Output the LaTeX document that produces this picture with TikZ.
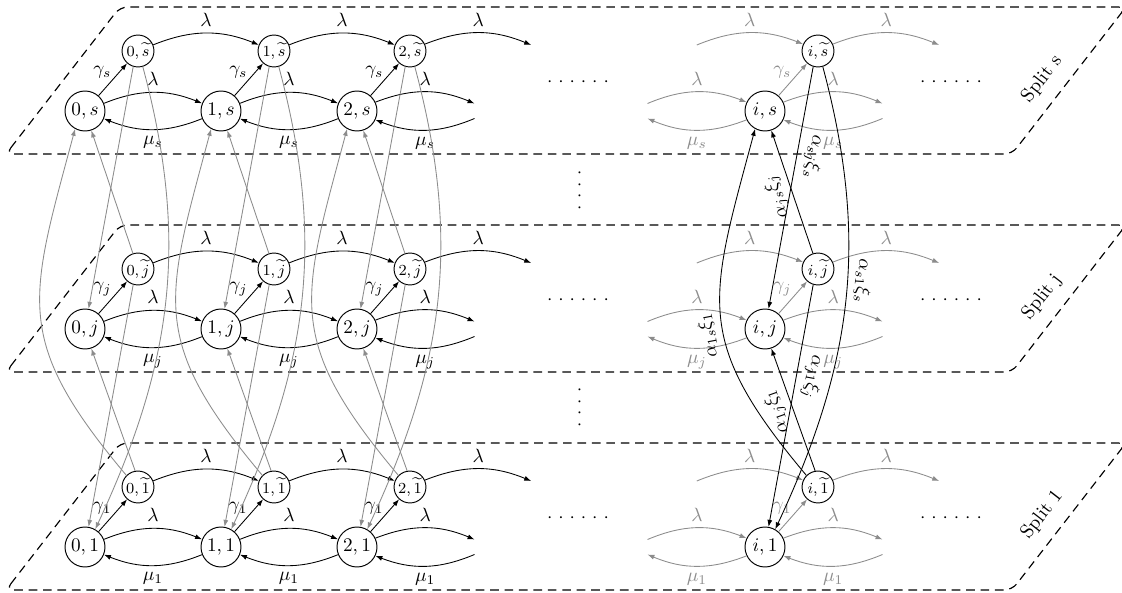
\documentclass[tikz,border=0pt]{standalone}
\usetikzlibrary{arrows.meta}
\newcommand{\sixdots}{$\cdot\kern3.1pt{\cdot}\kern3.1pt{\cdot}\kern3.1pt{\cdot}\kern3.1pt{\cdot}\kern3.1pt{\cdot}$}
\newcommand{\fourdots}{$\cdot\kern3.2pt{\cdot}\kern3.2pt{\cdot}\kern3.2pt{\cdot}$}
\begin{document}
\begin{tikzpicture}[x=0.52pt,y=0.52pt,
 mainnode/.style={circle,draw,line width=0.5pt,minimum size=20.8pt,inner sep=0pt},
 tildenode/.style={circle,draw,line width=0.5pt,minimum size=16.6pt,inner sep=0pt,font=\footnotesize},
 arr/.style={-{Latex[length=3.6pt,width=2.6pt]},line width=0.45pt},
 garr/.style={arr,color=black!45},
 glab/.style={text=black!45},
 frame/.style={line width=0.6pt,dash pattern=on 4.5pt off 3pt,rounded corners=4pt},
 alab/.style={sloped,allow upside down,above}
]
\useasboundingbox (0,0) rectangle (1122,-593);

\foreach \L/\off in {s/0,j/218,1/436}{
  \draw[frame] (6,{-154-\off}) -- (120,{-7-\off}) -- (1126,{-7-\off}) -- (1012,{-154-\off}) -- cycle;
  \foreach \k/\x in {0/85,1/221,2/357,i/765}{
    \node[mainnode] (m\L-\k) at (\x,{-111-\off}) {$\k,\L$};
    \node[tildenode] (t\L-\k) at ({\x+53},{-51-\off}) {$\k,\widetilde{\L}$};
  }
  % free ends
  \coordinate (f\L-a) at (474.5,{-103.5-\off});
  \coordinate (f\L-b) at (474.5,{-118.5-\off});
  \coordinate (f\L-c) at (531.2,{-45-\off});
  \coordinate (g\L-a) at (647.5,{-103.5-\off});
  \coordinate (g\L-b) at (647.5,{-118.5-\off});
  \coordinate (g\L-c) at (696.8,{-45-\off});
  \coordinate (h\L-a) at (882.5,{-103.5-\off});
  \coordinate (h\L-b) at (882.5,{-118.5-\off});
  \coordinate (h\L-c) at (939.2,{-45-\off});
  % black arrows in layer
  \foreach \k/\n in {0/1,1/2}{
    \draw[arr] (m\L-\k) to[bend left=22] node[above]{$\lambda$} (m\L-\n);
    \draw[arr] (m\L-\n) to[bend left=22] node[below]{$\mu_{\L}$} (m\L-\k);
    \draw[arr] (t\L-\k) to[bend left=22] node[above]{$\lambda$} (t\L-\n);
  }
  \draw[arr] (m\L-2) to[bend left=22] node[above]{$\lambda$} (f\L-a);
  \draw[arr] (f\L-b) to[bend left=22] node[below]{$\mu_{\L}$} (m\L-2);
  \draw[arr] (t\L-2) to[bend left=22] node[above]{$\lambda$} (f\L-c);
  \foreach \k in {0,1,2}{
    \draw[arr] (m\L-\k) -- node[above left,inner sep=0.5pt]{$\gamma_{\L}$} (t\L-\k);
  }
  % gray arrows around column i
  \draw[garr] (g\L-a) to[bend left=22] node[above,glab]{$\lambda$} (m\L-i);
  \draw[garr] (m\L-i) to[bend left=22] node[above,glab]{$\lambda$} (h\L-a);
  \draw[garr] (h\L-b) to[bend left=22] node[below,glab]{$\mu_{\L}$} (m\L-i);
  \draw[garr] (m\L-i) to[bend left=22] node[below,glab]{$\mu_{\L}$} (g\L-b);
  \draw[garr] (g\L-c) to[bend left=22] node[above,glab]{$\lambda$} (t\L-i);
  \draw[garr] (t\L-i) to[bend left=22] node[above,glab]{$\lambda$} (h\L-c);
  \draw[garr] (m\L-i) -- node[above left,inner sep=0.5pt,glab]{$\gamma_{\L}$} (t\L-i);
  % dots and label
  \node (dl\L) at (578,{-82-\off}) {\sixdots};
  \node (dr\L) at (951,{-82-\off}) {\sixdots};
  \node[rotate=52.2] (sp\L) at (1042,{-79-\off}) {Split \L};
}
\node[rotate=90] (vd1) at (580,-190.5) {\fourdots};
\node[rotate=90] (vd2) at (580,-407.5) {\fourdots};

% inter-layer gray
\foreach \k in {0,1,2}{
  \draw[garr] (ts-\k.-107) -- (mj-\k.80);
  \draw[garr] (tj-\k.108) -- (ms-\k.-72);
  \draw[garr] (ts-\k.-73) to[out=-75,in=65] (m1-\k.60);
  \draw[garr] (t1-\k.135) to[out=130,in=-105,looseness=1.3] (ms-\k.-119);
  \draw[garr] (tj-\k.-107) -- (m1-\k.80);
  \draw[garr] (t1-\k.100) -- (mj-\k.-72);
}
% inter-layer black for column i
\draw[arr] (ts-i.-107) -- node[pos=0.36,alab]{$\alpha_{sj}\xi_s$} (mj-i.80);
\draw[arr] (tj-i.108) -- node[pos=0.5,alab]{$\alpha_{js}\xi_j$} (ms-i.-72);
\draw[arr] (ts-i.-73) to[out=-75,in=65] node[pos=0.45,alab]{$\alpha_{s1}\xi_s$} (m1-i.60);
\draw[arr] (t1-i.135) to[out=130,in=-105,looseness=1.3] node[pos=0.44,alab]{$\alpha_{1s}\xi_1$} (ms-i.-119);
\draw[arr] (tj-i.-107) -- node[pos=0.37,alab]{$\alpha_{j1}\xi_j$} (m1-i.80);
\draw[arr] (t1-i.100) -- node[pos=0.53,alab]{$\alpha_{1j}\xi_1$} (mj-i.-72);
\end{tikzpicture}
\end{document}
